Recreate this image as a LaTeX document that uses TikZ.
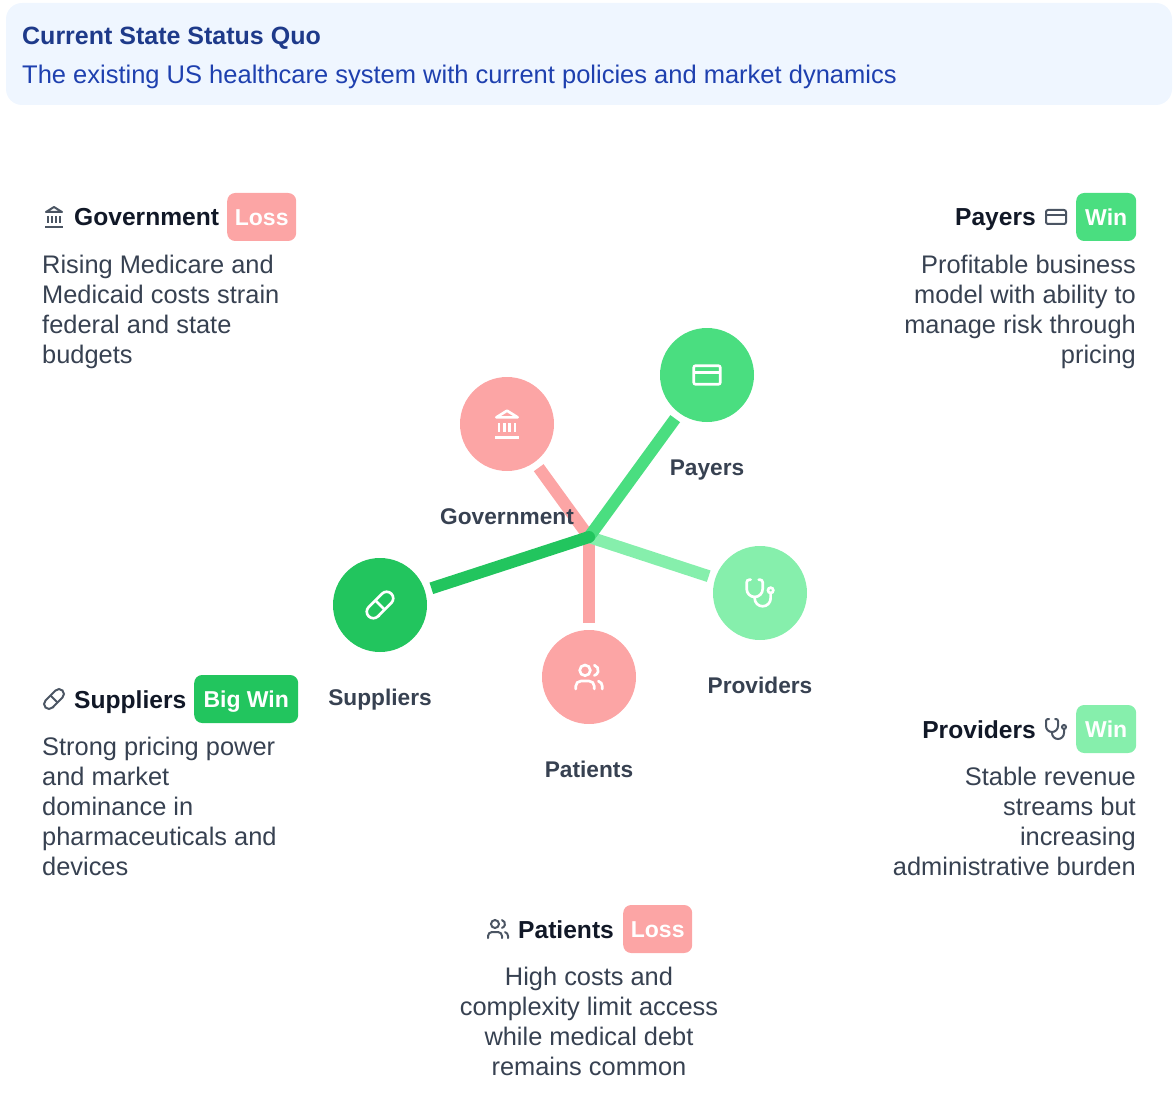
\documentclass[tikz,border=0pt]{standalone}
\usepackage{fontspec}
\setmainfont{Liberation Sans}
\usetikzlibrary{positioning}
\definecolor{lossc}{HTML}{FCA5A5}
\definecolor{winc}{HTML}{4ADE80}
\definecolor{softwinc}{HTML}{86EFAC}
\definecolor{bigwinc}{HTML}{22C55E}
\definecolor{headbg}{HTML}{EFF6FF}
\definecolor{headtitle}{HTML}{1E3A8A}
\definecolor{headsub}{HTML}{1E40AF}
\definecolor{bodyc}{HTML}{374151}
\definecolor{namec}{HTML}{111827}
\definecolor{iconc}{HTML}{4B5563}
\newcommand{\fsbody}{\fontsize{25.4}{30}\selectfont}
\newcommand{\fssub}{\fontsize{25.5}{30}\selectfont}
\newcommand{\fstitle}{\fontsize{25}{30}\selectfont\bfseries}
\newcommand{\fsname}{\fontsize{24.6}{30}\selectfont\bfseries}
\newcommand{\fslabel}{\fontsize{22.7}{28}\selectfont\bfseries}
\newcommand{\fsbadge}{\fontsize{23}{28}\selectfont\bfseries}
\tikzset{
  actor/.style={circle,minimum size=94,inner sep=0,outer sep=7},
  spoke/.style={line width=12},
  badge/.style={rectangle,rounded corners=8,minimum height=48,inner sep=0,text height=20,text depth=2.6,text=white,font=\fsbadge,anchor=west},
  actorlabel/.style={anchor=base,inner sep=0,text=bodyc,font=\fslabel},
  namelabel/.style={inner sep=0,text=namec,font=\fsname},
  para/.style={inner sep=0,text=bodyc,font=\fsbody},
  iconbig/.style={color=white,line width=2.67,scale=1.33},
  iconsmall/.style={color=iconc,line width=2},
  pics/cardicon/.style={code={
    \draw[rounded corners=2] (-10,-7) rectangle (10,7);
    \draw (-10,-2) -- (10,-2);
  }},
  pics/bankicon/.style={code={
    \begin{scope}[shift={(-12,-12)}]
    \draw (3,22) -- (21,22);
    \draw (6,18) -- (6,11) (10,18) -- (10,11) (14,18) -- (14,11) (18,18) -- (18,11);
    \draw[line join=round] (12,2) -- (20,7) -- (4,7) -- cycle;
    \end{scope}
  }},
  pics/pillicon/.style={code={
    \begin{scope}[shift={(-12,-12)}]
    \draw (10.5,20.5) -- (20.5,10.5) arc (45:-135:4.95) -- (3.5,13.5) arc (225:45:4.95) -- cycle;
    \draw (8.5,8.5) -- (15.5,15.5);
    \end{scope}
  }},
  pics/scopeicon/.style={code={
    \begin{scope}[shift={(-12,-12)},line cap=round]
    \draw (5,2) -- (4,2) arc (270:180:2) -- (2,9) arc (180:0:6) -- (14,4) arc (0:-90:2) -- (11,2);
    \draw (8,15) -- (8,16) arc (180:0:6) -- (20,12);
    \draw (20,10) circle (2);
    \end{scope}
  }},
  pics/peopleicon/.style={code={
    \begin{scope}[shift={(-12,-12)},line cap=round]
    \draw (16,21) -- (16,19) arc (0:-90:4) -- (6,15) arc (270:180:4) -- (2,21);
    \draw (9,7) circle (4);
    \draw (22,21) -- (22,19) arc (0:-75:4);
    \draw (16,3.13) arc (-75:75:4);
    \end{scope}
  }},
}

\begin{document}
\begin{tikzpicture}[x=1pt,y=-1pt]
\useasboundingbox (0,0) rectangle (1176,1094);

% banner
\draw[fill=headbg,draw=none,rounded corners=16] (6,3) rectangle (1172,105);
\draw(22,45) node[anchor=base west,inner sep=0,text=headtitle,font=\fstitle] (title) {Current State Status Quo};
\draw(22,84) node[anchor=base west,inner sep=0,text=headsub,font=\fssub] (subtitle) {The existing US healthcare system with current policies and market dynamics};

% hub and spokes
\coordinate (hub) at (589,537);
\draw(507,424) node[actor,fill=lossc] (gov) {};
\draw(707,375) node[actor,fill=winc] (pay) {};
\draw(760,593) node[actor,fill=softwinc] (prov) {};
\draw(589,677) node[actor,fill=lossc] (pat) {};
\draw(380,605) node[actor,fill=bigwinc] (sup) {};

\draw[spoke,lossc] (gov) -- (hub);
\draw[spoke,lossc] (pat) -- (hub);
\draw[spoke,softwinc] (prov) -- (hub);
\draw[spoke,winc] (pay) -- (hub);
\draw[spoke,bigwinc] (sup) -- (hub);
\fill[bigwinc] (hub) circle (6);

\pic[iconbig] at (507,424) {bankicon};
\pic[iconbig] at (707,375) {cardicon};
\pic[iconbig] at (760,593) {scopeicon};
\pic[iconbig] at (589,677) {peopleicon};
\pic[iconbig] at (380,605) {pillicon};

\draw(507,524) node[actorlabel] (govl) {Government};
\draw(707,475) node[actorlabel] (payl) {Payers};
\draw(760,693) node[actorlabel] (provl) {Providers};
\draw(589,777) node[actorlabel] (patl) {Patients};
\draw(380,705) node[actorlabel] (supl) {Suppliers};

% government
\pic[iconsmall] at (54,217) {bankicon};
\draw(74,226) node[namelabel,anchor=base west] (govn) {Government};
\draw(227,217) node[badge,fill=lossc,minimum width=69] (govb) {Loss};
\draw(42,255) node[para,anchor=north west,align=left] (govt) {Rising Medicare and\\Medicaid costs strain\\federal and state\\budgets};

% payers
\pic[iconsmall] at (1056,217) {cardicon};
\draw(1036,226) node[namelabel,anchor=base east] (payn) {Payers};
\draw(1076,217) node[badge,fill=winc,minimum width=60] (payb) {Win};
\draw(1136,255) node[para,anchor=north east,align=right] (payt) {Profitable business\\model with ability to\\manage risk through\\pricing};

% suppliers
\pic[iconsmall] at (54,699) {pillicon};
\draw(74,708) node[namelabel,anchor=base west] (supn) {Suppliers};
\draw(194,699) node[badge,fill=bigwinc,minimum width=104] (supb) {Big Win};
\draw(42,737) node[para,anchor=north west,align=left] (supt) {Strong pricing power\\and market\\dominance in\\pharmaceuticals and\\devices};

% providers
\pic[iconsmall] at (1056,729) {scopeicon};
\draw(1036,738) node[namelabel,anchor=base east] (provn) {Providers};
\draw(1076,729) node[badge,fill=softwinc,minimum width=60] (provb) {Win};
\draw(1136,767) node[para,anchor=north east,align=right] (provt) {Stable revenue\\streams but\\increasing\\administrative burden};

% patients
\pic[iconsmall] at (498,929) {peopleicon};
\draw(518,938) node[namelabel,anchor=base west] (patn) {Patients};
\draw(623,929) node[badge,fill=lossc,minimum width=69] (patb) {Loss};
\draw(589,967) node[para,anchor=north,align=center] (patt) {High costs and\\complexity limit access\\while medical debt\\remains common};
\end{tikzpicture}
\end{document}
